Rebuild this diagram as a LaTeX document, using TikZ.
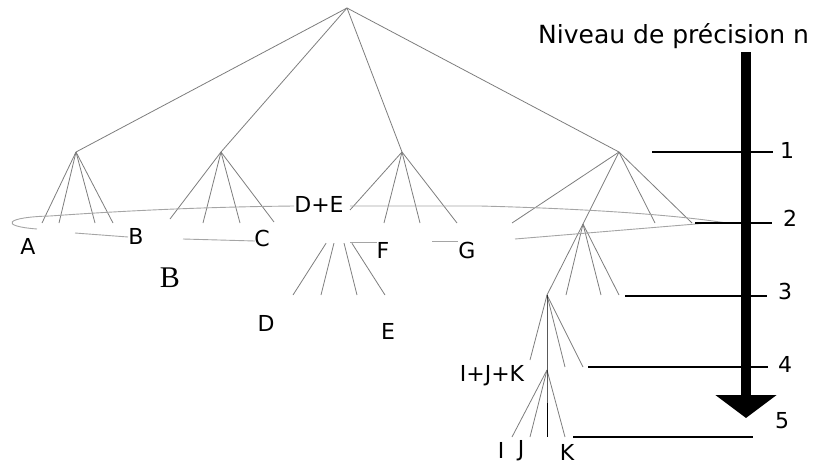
\documentclass[tikz,border=0pt]{standalone}
\usepackage{fontspec}
\setmainfont{DejaVu Sans}
\newfontfamily\serifB{Liberation Serif}
\usepackage{tikz}
\usetikzlibrary{calc,arrows.meta}
\definecolor{treegray}{RGB}{125,125,125}
\definecolor{ringgray}{RGB}{165,165,165}

\begin{document}
\begin{tikzpicture}[
        x=1pt, y=-1pt,
        edge/.style={draw=treegray, line width=0.8pt},
        ring/.style={draw=ringgray, line width=0.9pt},
        lvline/.style={draw=black, line width=1.3pt},
        lab/.style={inner sep=0pt, font=\fontsize{22}{24}\selectfont},
        num/.style={inner sep=0pt, font=\fontsize{22}{26}\selectfont}
    ]
    \useasboundingbox (0,0) rectangle (816,466);

    % Nodes
    \coordinate (root) at (347,8);
    \coordinate (n1) at (76,152);
    \coordinate (n2) at (221,152);
    \coordinate (n3) at (402,152);
    \coordinate (n4) at (619,152);
    \coordinate (s1) at (583,224);
    \coordinate (s2) at (547,295);
    \coordinate (s3) at (547,370);
    \coordinate (de) at (339,223);

    \node[lab] (lA) at (28,246) {A};
    \node[lab] (lB) at (136,236) {B};
    \node[lab] (lC) at (262,238) {C};
    \node[lab] (lde) at (319,204) {D+E};
    \node[lab] (lF) at (383,250) {F};
    \node[lab] (lG) at (467,250) {G};
    \node[inner sep=0pt, font=\serifB\fontsize{30}{32}\selectfont] (lBs) at (170,278) {B};
    \node[lab] (lD) at (266,323) {D};
    \node[lab] (lE) at (388,331) {E};
    \node[lab] (lijk) at (492,376) {I+J+K};
    \node[lab] (lI) at (501,450) {I};
    \node[lab] (lJ) at (521,451) {J};
    \node[lab] (lK) at (567,452) {K};

    \node[anchor=base west, inner sep=0pt, font=\fontsize{25}{30}\selectfont] (title) at (538,43) {Niveau de précision n};
    \foreach \n/\x/\y in {1/787/150, 2/790/218, 3/785/291, 4/785/364, 5/782/421}
        \node[num] (lv\n) at (\x,\y) {\n};

    % Tree
    \foreach \c in {n1,n2,n3,n4}
        \draw[edge] (root) -- (\c);
    \foreach \p/\c/\x/\y in {n1/a1/42/223, n1/a2/59/223, n1/a3/95/223, n1/a4/113/223,
                             n2/b1/170/219, n2/b2/203/223, n2/b3/240/223, n2/b4/274/222,
                             n3/c1/350/210, n3/c2/384/223, n3/c3/420/223, n3/c4/457/223,
                             n4/g1/512/223, n4/g2/655/223, n4/g3/692/223,
                             s1/h1/566/295, s1/h2/601/295, s1/h3/619/295,
                             s2/k1/530/360, s2/k2/565/367, s2/k3/583/367,
                             s3/m1/512/437, s3/m2/530/437, s3/m3/565/437} {
        \coordinate (\c) at (\x,\y);
        \draw[edge] (\p) -- (\c);
    }
    \draw[edge] (n4) -- (s1) -- (s2);
    \draw[black, line width=0.9pt] (s2) -- (s3) coordinate (mid) -- (547,437) coordinate (m0);

    % D+E split
    \foreach \c/\x in {d1/293, d2/321, d3/357, d4/385} {
        \coordinate (\c) at (\x,295);
        \draw[edge] ($(de)!0.28!(\c)$) -- (\c);
    }

    % Ring
    \coordinate (eA) at (37,229);
    \coordinate (eL) at (294,206);
    \coordinate (eR) at (350,206);
    \coordinate (eT) at (720,222);
    \coordinate (eG) at (515,239);
    \draw[ring] (eA) .. controls (-2,226) and (6,217) .. (50,216)
        .. controls (120,211) and (200,207) .. (eL);
    \draw[ring] (eR) -- (480,206) .. controls (600,209) and (680,216) .. (eT) -- (eG);
    \foreach \a/\b/\y/\z in {75/128/233/237, 183/255/239/241, 350/377/242/242, 432/458/241/241}
        \draw[ring] (\a,\y) -- (\b,\z);

    % Levels
    \foreach \n/\a/\b/\y in {1/652/773/152, 2/695/772/223, 3/625/767/296, 4/588/768/367, 5/573/753/437} {
        \coordinate (la\n) at (\a,\y);
        \coordinate (lb\n) at (\b,\y);
        \draw[lvline] (la\n) -- (lb\n);
    }

    % Arrow
    \coordinate (axtop) at (746,52);
    \coordinate (axbot) at (746,418);
    \draw[line width=10pt, -{Triangle[length=23pt, width=60pt]}] (axtop) -- (axbot);
\end{tikzpicture}
\end{document}
